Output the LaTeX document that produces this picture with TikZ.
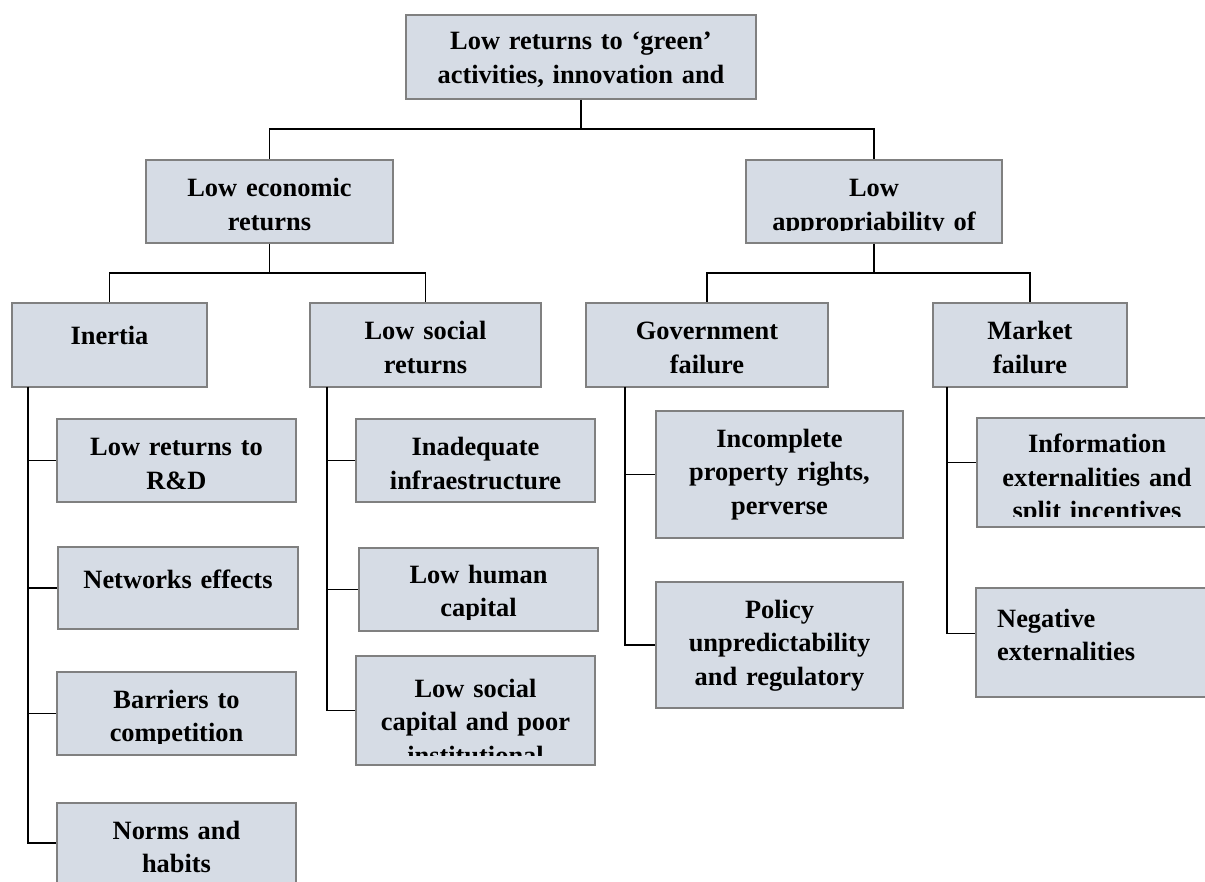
\documentclass[tikz,border=0pt]{standalone}
\usepackage{fontspec}
\setmainfont{Liberation Serif}
\definecolor{boxfill}{RGB}{214,220,229}
\definecolor{boxline}{RGB}{128,128,128}
\tikzset{
  bx/.style={draw=boxline, line width=2pt, fill=boxfill, inner sep=0pt, outer sep=1pt},
  txt/.style={inner sep=0pt, text width=420pt, align=center, font=\fontsize{26.4}{33.5}\selectfont\bfseries, anchor=base},
  txtl/.style={inner sep=0pt, text width=220pt, align=left, font=\fontsize{26.4}{33.5}\selectfont\bfseries, anchor=base west},
  conn/.style={line width=1.2pt, black},
}
% name, x1, y1, x2, y2, text x, text baseline y, clip inset bottom, text
\newcommand\mybox[9]{%
  \node[bx, minimum width={(#4-#2)*1pt}, minimum height={(#5-#3)*1pt}] (#1) at ({(#2+#4)/2},{(#3+#5)/2}) {};
  \begin{scope}
    \clip (#2+2,#3+2) rectangle (#4-2,#5-#8);
    \node[txt] (#1-t) at (#6,#7) {#9};
  \end{scope}}
\begin{document}
\begin{tikzpicture}[x=1pt,y=-1pt]
\useasboundingbox (0,0) rectangle (1205,882);
\clip (0,0) rectangle (1205,882);
\fill[white] (0,0) rectangle (1205,882);

\mybox{top}{406}{15}{756}{99}{581}{50}{5}{Low returns to ‘green’\\activities, innovation and}
\mybox{econ}{146}{160}{393}{243}{269.5}{197}{12}{Low economic\\returns}
\mybox{approp}{746}{160}{1002}{243}{874}{197}{12}{Low\\appropriability of}

\mybox{inertia}{12}{303}{207}{387}{109.5}{345}{12}{Inertia}
\mybox{social}{310}{303}{541}{387}{425.5}{340}{12}{Low social\\returns}
\mybox{gov}{586}{303}{828}{387}{707}{340}{12}{Government\\failure}
\mybox{market}{933}{303}{1127}{387}{1030}{340}{12}{Market\\failure}

\mybox{rd}{57}{419}{296}{502}{176.5}{456}{12}{Low returns to\\R\&D}
\mybox{net}{58}{547}{298}{629}{178}{588}{12}{Networks effects}
\mybox{barr}{57}{672}{296}{755}{176.5}{708}{12}{Barriers to\\competition}
\mybox{norms}{57}{803}{296}{883}{176.5}{839}{0}{Norms and\\habits}

\mybox{infra}{356}{419}{595}{502}{475.5}{456}{12}{Inadequate\\infraestructure}
\mybox{human}{359}{548}{598}{631}{478.5}{583}{12}{Low human\\capital}
\mybox{scap}{356}{656}{595}{765}{475.5}{697}{10}{Low social\\capital and poor\\institutional}

\mybox{incomp}{656}{411}{903}{538}{779.5}{447}{12}{Incomplete\\property rights,\\perverse}
\mybox{policy}{656}{582}{903}{708}{779.5}{618}{12}{Policy\\unpredictability\\and regulatory}

\mybox{info}{977}{418}{1217}{527}{1097}{453}{11}{Information\\externalities and\\split incentives}
\node[bx, minimum width=241pt, minimum height=109pt] (neg) at (1096.5,642.5) {};
\node[txtl] (neg-t) at (997,627) {Negative\\externalities};

% connectors
\draw[conn] (top.south) -- ++(0,29) -| (econ.north);
\draw[conn] (top.south) -- ++(0,29) -| (approp.north);
\draw[conn] (econ.south) -- ++(0,29) -| (inertia.north);
\draw[conn] (econ.south) -- ++(0,29) -| (social.north);
\draw[conn] (approp.south) -- ++(0,29) -| (gov.north);
\draw[conn] (approp.south) -- ++(0,29) -| (market.north);

\draw[conn] (inertia.south west) ++(17,-1) |- (rd.west);
\draw[conn] (inertia.south west) ++(17,-1) |- (net.west);
\draw[conn] (inertia.south west) ++(17,-1) |- (barr.west);
\draw[conn] (inertia.south west) ++(17,-1) |- (norms.west);

\draw[conn] (social.south west) ++(18,-1) |- (infra.west);
\draw[conn] (social.south west) ++(18,-1) |- (human.west);
\draw[conn] (social.south west) ++(18,-1) |- (scap.west);

\draw[conn] (gov.south west) ++(40,-1) |- (incomp.west);
\draw[conn] (gov.south west) ++(40,-1) |- (policy.west);

\draw[conn] (market.south west) ++(15,-1) |- ([yshift=10pt]info.west);
\draw[conn] (market.south west) ++(15,-1) |- ([yshift=9pt]neg.west);
\end{tikzpicture}
\end{document}
